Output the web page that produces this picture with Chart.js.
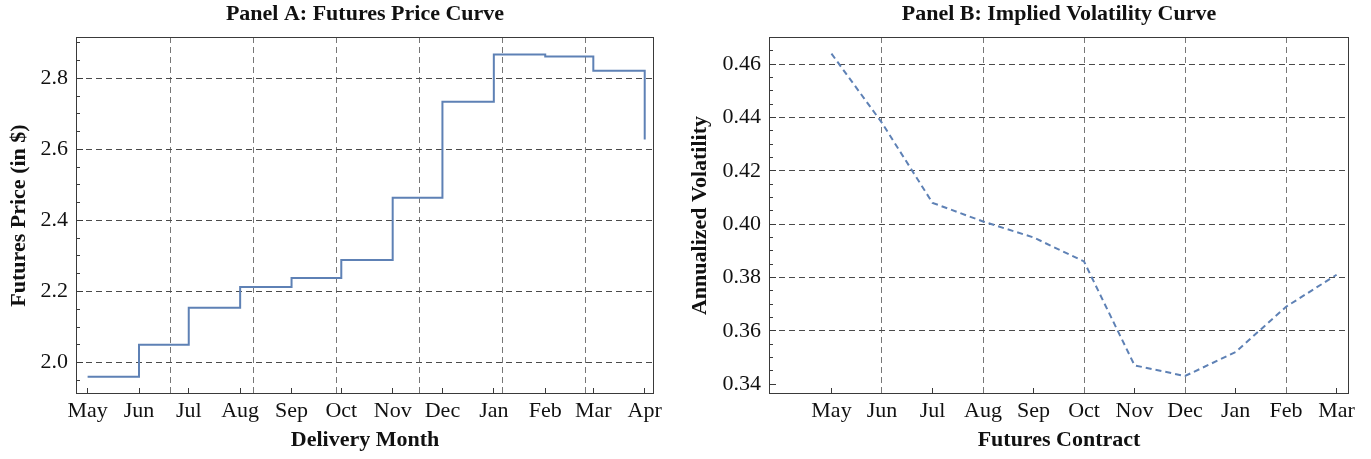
<!DOCTYPE html>
<html>
<head>
<meta charset="utf-8">
<title>Futures price and implied volatility curves</title>
<script src="https://cdn.jsdelivr.net/npm/chart.js@4.4.1/dist/chart.umd.min.js"></script>
<style>
  html, body { margin: 0; padding: 0; background: #fff; }
  #wrap { position: relative; width: 1371px; height: 459px; }
  canvas { position: absolute; top: 0; }
  #priceChart { left: 0; }
  #volChart { left: 680px; }
</style>
</head>
<body>
<div id="wrap">
  <canvas id="priceChart" width="680" height="459"></canvas>
  <canvas id="volChart" width="691" height="459"></canvas>
</div>
<script>
// Panel A - futures price by delivery month (step curve)
const deliveryMonths = ['May', 'Jun', 'Jul', 'Aug', 'Sep', 'Oct', 'Nov', 'Dec', 'Jan', 'Feb', 'Mar', 'Apr'];
const deliveryDates = ['2015-05-01', '2015-06-01', '2015-07-01', '2015-08-01', '2015-09-01', '2015-10-01',
                       '2015-11-01', '2015-12-01', '2016-01-01', '2016-02-01', '2016-03-01', '2016-04-01'];
const futuresPrices = [1.960, 2.050, 2.154, 2.213, 2.238, 2.289, 2.464, 2.734, 2.867, 2.861, 2.821, 2.628];
const priceTicks = [2.0, 2.2, 2.4, 2.6, 2.8];
const priceGridLines = [2.0, 2.2, 2.4, 2.6, 2.8];
const priceGridDays = [50, 100, 150, 200, 250, 300];

// Panel B - implied volatility by futures contract
const contractMonths = ['May', 'Jun', 'Jul', 'Aug', 'Sep', 'Oct', 'Nov', 'Dec', 'Jan', 'Feb', 'Mar'];
const impliedVols = [0.464, 0.438, 0.408, 0.401, 0.395, 0.386, 0.347, 0.343, 0.352, 0.369, 0.381];
const volTicks = [0.34, 0.36, 0.38, 0.40, 0.42, 0.44, 0.46];
const volGridLines = [0.36, 0.38, 0.40, 0.42, 0.44, 0.46];
const volGridIdx = [1, 3, 5, 7, 9];

const serif = "'Liberation Serif', 'Times New Roman', serif";
const textColor = '#111';
const frameColor = '#3a3a3a';
const gridColor = '#4a4a4a';
const curveColor = '#5e81b5';
const tickFont = { family: serif, size: 22 };
const titleFont = { family: serif, size: 22, weight: 'bold' };

const dayMs = 86400000;
const toUTC = (s) => { const p = s.split('-').map(Number); return Date.UTC(p[0], p[1] - 1, p[2]); };
const dayOffsets = deliveryDates.map(d => (toUTC(d) - toUTC(deliveryDates[0])) / dayMs);

// box round the plot area, like a frame
const framePlugin = {
    id: 'frame',
    afterDraw(chart) {
        const { ctx, chartArea: a } = chart;
        ctx.save();
        ctx.strokeStyle = frameColor;
        ctx.lineWidth = 1;
        ctx.strokeRect(Math.round(a.left) + 0.5, Math.round(a.top) + 0.5,
                       Math.round(a.right - a.left) - 1, Math.round(a.bottom - a.top) - 1);
        ctx.restore();
    }
};

const setTicks = (values) => (s) => { s.ticks = values.map(v => ({ value: v })); };
const minorTicks = (step) => (s) => {
    const out = [];
    const first = Math.ceil(s.min / step - 1e-9), last = Math.floor(s.max / step + 1e-9);
    for (let k = first; k <= last; k++) out.push({ value: +(k * step).toFixed(4) });
    s.ticks = out;
};
const hasLine = (list, v) => list.some(g => Math.abs(g - v) < 1e-6);

function panel(canvasId, cfg) {
    return new Chart(document.getElementById(canvasId), {
        type: 'line',
        data: { datasets: [cfg.dataset] },
        plugins: [framePlugin],
        options: {
            responsive: false,
            animation: false,
            layout: { padding: { left: 0, right: cfg.padRight, top: 0, bottom: 0 } },
            plugins: {
                legend: { display: false },
                tooltip: { enabled: false },
                title: {
                    display: true, text: cfg.title, fullSize: false,
                    font: titleFont, color: textColor,
                    padding: { top: 1.5, bottom: 9.1 }
                }
            },
            scales: {
                x: {
                    type: 'linear', position: 'bottom', weight: 0,
                    min: cfg.xMin, max: cfg.xMax,
                    afterBuildTicks: setTicks(cfg.xTicks),
                    afterFit: (s) => { s.height = 65; },
                    ticks: {
                        autoSkip: false, maxRotation: 0, padding: 10.1,
                        color: textColor, font: tickFont,
                        callback: (v, i) => cfg.xLabels[i]
                    },
                    grid: { drawOnChartArea: false, drawTicks: true, tickLength: -6, color: frameColor },
                    border: { display: false },
                    title: {
                        display: true, text: cfg.xTitle, font: titleFont, color: textColor,
                        padding: { top: 0, bottom: 5.8 }
                    }
                },
                xg: {
                    type: 'linear', position: 'bottom', weight: 1,
                    min: cfg.xMin, max: cfg.xMax,
                    afterBuildTicks: setTicks(cfg.xGrid),
                    afterFit: (s) => { s.height = 0; },
                    ticks: { display: false },
                    grid: { drawTicks: false, color: '#777', lineWidth: 1 },
                    border: { display: false, dash: [6, 4] }
                },
                y: {
                    type: 'linear', position: 'left', weight: 1,
                    min: cfg.yMin, max: cfg.yMax,
                    afterBuildTicks: setTicks(cfg.yTicks),
                    afterFit: (s) => { s.width = cfg.yWidth; },
                    ticks: {
                        padding: 15, color: textColor, font: tickFont,
                        callback: (v) => v.toFixed(cfg.yDigits)
                    },
                    grid: {
                        drawTicks: true, tickLength: -7, tickColor: frameColor, lineWidth: 1,
                        color: (c) => (c.tick && hasLine(cfg.yGrid, c.tick.value)) ? gridColor : 'rgba(0,0,0,0)'
                    },
                    border: { display: false, dash: [6, 4] },
                    title: {
                        display: true, text: cfg.yTitle, font: titleFont, color: textColor,
                        padding: { top: cfg.yTitlePad, bottom: 0 }
                    }
                },
                ym: {
                    type: 'linear', position: 'left', weight: 0,
                    min: cfg.yMin, max: cfg.yMax,
                    afterBuildTicks: minorTicks(cfg.yMinor),
                    afterFit: (s) => { s.width = 0; },
                    ticks: { display: false },
                    grid: { drawOnChartArea: false, drawTicks: true, tickLength: -4, color: frameColor },
                    border: { display: false }
                }
            }
        }
    });
}

panel('priceChart', {
    title: 'Panel A: Futures Price Curve',
    xTitle: 'Delivery Month',
    yTitle: 'Futures Price (in $)',
    dataset: {
        label: 'Futures price',
        data: dayOffsets.map((d, i) => ({ x: d, y: futuresPrices[i] })),
        stepped: true,
        borderColor: curveColor,
        borderWidth: 2,
        pointRadius: 0,
        fill: false
    },
    xMin: -7, xMax: 341.6,
    xTicks: dayOffsets, xLabels: deliveryMonths, xGrid: priceGridDays,
    yMin: 1.9116, yMax: 2.9162, yTicks: priceTicks, yGrid: priceGridLines, yDigits: 1, yMinor: 0.05,
    yWidth: 76, yTitlePad: 5.8, padRight: 26
});

panel('volChart', {
    title: 'Panel B: Implied Volatility Curve',
    xTitle: 'Futures Contract',
    yTitle: 'Annualized Volatility',
    dataset: {
        label: 'Implied volatility',
        data: impliedVols.map((v, i) => ({ x: i, y: v })),
        borderColor: curveColor,
        borderWidth: 2,
        borderDash: [6, 4],
        pointRadius: 0,
        tension: 0,
        fill: false
    },
    xMin: -1.2366, xMax: 10.2457,
    xTicks: contractMonths.map((m, i) => i), xLabels: contractMonths, xGrid: volGridIdx,
    yMin: 0.33625, yMax: 0.47024, yTicks: volTicks, yGrid: volGridLines, yDigits: 2, yMinor: 0.005,
    yWidth: 89, yTitlePad: 6.8, padRight: 22
});
</script>
</body>
</html>
